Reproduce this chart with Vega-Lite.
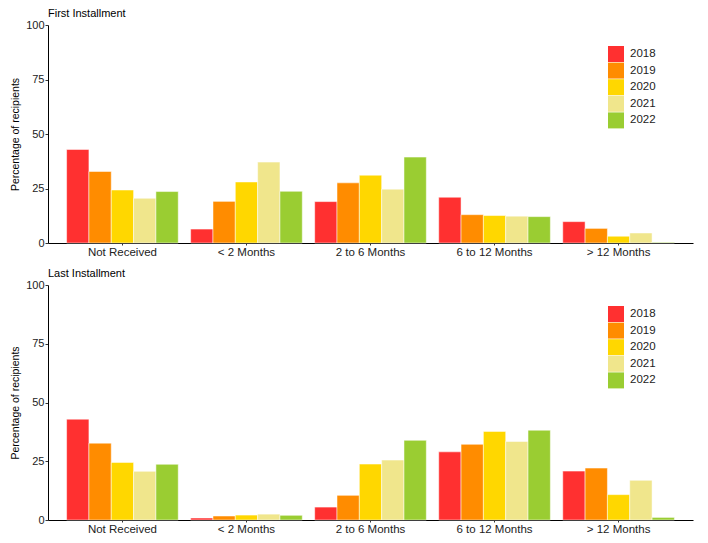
{
  "$schema": "https://vega.github.io/schema/vega-lite/v6.json",
  "padding": {"left": 10, "top": 8, "right": 5, "bottom": 5},
  "background": "white",
  "spacing": 10,
  "config": {
    "font": "Liberation Sans",
    "view": {"stroke": null},
    "axis": {"grid": false, "domainColor": "#000000", "tickColor": "#333333", "labelColor": "#222222", "titleColor": "#000000", "titleFontWeight": "normal"},
    "title": {"fontWeight": "normal", "fontSize": 11, "color": "#000000", "anchor": "start", "frame": "group"}
  },
  "data": {"values": [
    {"panel": "First", "cat": "Not Received", "year": "2018", "value": 42.9},
    {"panel": "First", "cat": "Not Received", "year": "2019", "value": 32.8},
    {"panel": "First", "cat": "Not Received", "year": "2020", "value": 24.3},
    {"panel": "First", "cat": "Not Received", "year": "2021", "value": 20.5},
    {"panel": "First", "cat": "Not Received", "year": "2022", "value": 23.6},
    {"panel": "First", "cat": "< 2 Months", "year": "2018", "value": 6.4},
    {"panel": "First", "cat": "< 2 Months", "year": "2019", "value": 19.1},
    {"panel": "First", "cat": "< 2 Months", "year": "2020", "value": 28.0},
    {"panel": "First", "cat": "< 2 Months", "year": "2021", "value": 37.1},
    {"panel": "First", "cat": "< 2 Months", "year": "2022", "value": 23.7},
    {"panel": "First", "cat": "2 to 6 Months", "year": "2018", "value": 19.0},
    {"panel": "First", "cat": "2 to 6 Months", "year": "2019", "value": 27.6},
    {"panel": "First", "cat": "2 to 6 Months", "year": "2020", "value": 31.1},
    {"panel": "First", "cat": "2 to 6 Months", "year": "2021", "value": 24.7},
    {"panel": "First", "cat": "2 to 6 Months", "year": "2022", "value": 39.4},
    {"panel": "First", "cat": "6 to 12 Months", "year": "2018", "value": 21.0},
    {"panel": "First", "cat": "6 to 12 Months", "year": "2019", "value": 13.0},
    {"panel": "First", "cat": "6 to 12 Months", "year": "2020", "value": 12.6},
    {"panel": "First", "cat": "6 to 12 Months", "year": "2021", "value": 12.3},
    {"panel": "First", "cat": "6 to 12 Months", "year": "2022", "value": 12.1},
    {"panel": "First", "cat": "> 12 Months", "year": "2018", "value": 9.8},
    {"panel": "First", "cat": "> 12 Months", "year": "2019", "value": 6.7},
    {"panel": "First", "cat": "> 12 Months", "year": "2020", "value": 3.1},
    {"panel": "First", "cat": "> 12 Months", "year": "2021", "value": 4.6},
    {"panel": "First", "cat": "> 12 Months", "year": "2022", "value": 0.3},
    {"panel": "Last", "cat": "Not Received", "year": "2018", "value": 42.9},
    {"panel": "Last", "cat": "Not Received", "year": "2019", "value": 32.7},
    {"panel": "Last", "cat": "Not Received", "year": "2020", "value": 24.5},
    {"panel": "Last", "cat": "Not Received", "year": "2021", "value": 20.7},
    {"panel": "Last", "cat": "Not Received", "year": "2022", "value": 23.7},
    {"panel": "Last", "cat": "< 2 Months", "year": "2018", "value": 0.85},
    {"panel": "Last", "cat": "< 2 Months", "year": "2019", "value": 1.7},
    {"panel": "Last", "cat": "< 2 Months", "year": "2020", "value": 2.1},
    {"panel": "Last", "cat": "< 2 Months", "year": "2021", "value": 2.5},
    {"panel": "Last", "cat": "< 2 Months", "year": "2022", "value": 2.0},
    {"panel": "Last", "cat": "2 to 6 Months", "year": "2018", "value": 5.5},
    {"panel": "Last", "cat": "2 to 6 Months", "year": "2019", "value": 10.5},
    {"panel": "Last", "cat": "2 to 6 Months", "year": "2020", "value": 23.8},
    {"panel": "Last", "cat": "2 to 6 Months", "year": "2021", "value": 25.5},
    {"panel": "Last", "cat": "2 to 6 Months", "year": "2022", "value": 33.9},
    {"panel": "Last", "cat": "6 to 12 Months", "year": "2018", "value": 29.0},
    {"panel": "Last", "cat": "6 to 12 Months", "year": "2019", "value": 32.2},
    {"panel": "Last", "cat": "6 to 12 Months", "year": "2020", "value": 37.7},
    {"panel": "Last", "cat": "6 to 12 Months", "year": "2021", "value": 33.4},
    {"panel": "Last", "cat": "6 to 12 Months", "year": "2022", "value": 38.2},
    {"panel": "Last", "cat": "> 12 Months", "year": "2018", "value": 20.8},
    {"panel": "Last", "cat": "> 12 Months", "year": "2019", "value": 22.1},
    {"panel": "Last", "cat": "> 12 Months", "year": "2020", "value": 10.8},
    {"panel": "Last", "cat": "> 12 Months", "year": "2021", "value": 16.9},
    {"panel": "Last", "cat": "> 12 Months", "year": "2022", "value": 1.1}
  ]},
  "vconcat": [
    {
      "title": {"text": "First Installment", "offset": 0},
      "width": 645,
      "height": 218,
      "transform": [{"filter": "datum.panel === 'First'"}],
      "mark": {"type": "bar", "stroke": "white", "strokeWidth": 0.5},
      "encoding": {
        "x": {"field": "cat", "type": "nominal", "sort": ["Not Received", "< 2 Months", "2 to 6 Months", "6 to 12 Months", "> 12 Months"], "scale": {"paddingInner": 0.1, "paddingOuter": 0.15}, "axis": {"title": null, "labelAngle": 0, "labelFontSize": 11.5, "labelColor": "#222222", "tickSize": 2, "labelPadding": 1}},
        "xOffset": {"field": "year", "type": "nominal", "scale": {"paddingInner": 0, "paddingOuter": 0}},
        "y": {"field": "value", "type": "quantitative", "scale": {"domain": [0, 100], "nice": false}, "axis": {"title": "Percentage of recipients", "values": [0, 25, 50, 75, 100], "labelFontSize": 11, "titleFontSize": 10.5, "tickSize": 3, "labelPadding": 1, "titlePadding": 5}},
        "color": {"field": "year", "type": "nominal", "scale": {"domain": ["2018", "2019", "2020", "2021", "2022"], "range": ["#FF3030", "#FF8C00", "#FFD700", "#F0E68C", "#9ACD32"]}, "legend": {"title": null, "orient": "none", "legendX": 560, "legendY": 21, "symbolType": "square", "symbolSize": 256, "symbolStrokeWidth": 0, "labelFontSize": 11.5, "labelColor": "#222222", "rowPadding": 0.6, "labelOffset": 6}}
      }
    },
    {
      "title": {"text": "Last Installment", "offset": 0},
      "width": 645,
      "height": 235,
      "transform": [{"filter": "datum.panel === 'Last'"}],
      "mark": {"type": "bar", "stroke": "white", "strokeWidth": 0.5},
      "encoding": {
        "x": {"field": "cat", "type": "nominal", "sort": ["Not Received", "< 2 Months", "2 to 6 Months", "6 to 12 Months", "> 12 Months"], "scale": {"paddingInner": 0.1, "paddingOuter": 0.15}, "axis": {"title": null, "labelAngle": 0, "labelFontSize": 11.5, "labelColor": "#222222", "tickSize": 2, "labelPadding": 1}},
        "xOffset": {"field": "year", "type": "nominal", "scale": {"paddingInner": 0, "paddingOuter": 0}},
        "y": {"field": "value", "type": "quantitative", "scale": {"domain": [0, 100], "nice": false}, "axis": {"title": "Percentage of recipients", "values": [0, 25, 50, 75, 100], "labelFontSize": 11, "titleFontSize": 10.5, "tickSize": 3, "labelPadding": 1, "titlePadding": 5}},
        "color": {"field": "year", "type": "nominal", "scale": {"domain": ["2018", "2019", "2020", "2021", "2022"], "range": ["#FF3030", "#FF8C00", "#FFD700", "#F0E68C", "#9ACD32"]}, "legend": {"title": null, "orient": "none", "legendX": 560, "legendY": 21, "symbolType": "square", "symbolSize": 256, "symbolStrokeWidth": 0, "labelFontSize": 11.5, "labelColor": "#222222", "rowPadding": 0.6, "labelOffset": 6}}
      }
    }
  ],
  "resolve": {"scale": {"color": "shared"}, "legend": {"color": "independent"}}
}
